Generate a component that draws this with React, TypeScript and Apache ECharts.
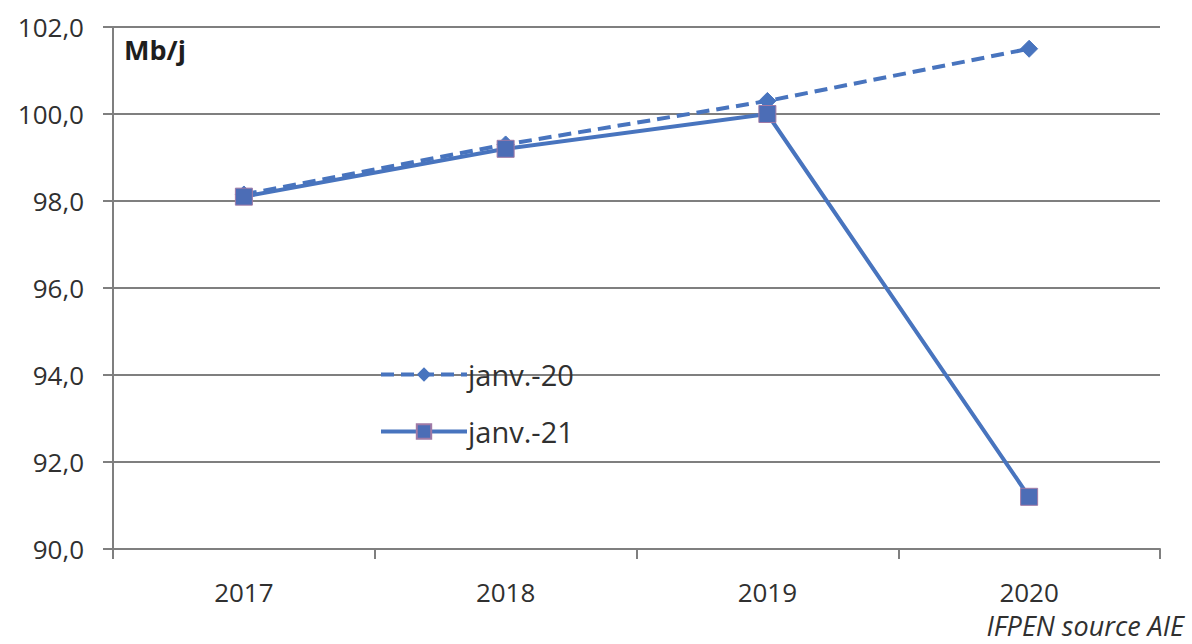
import React, { useEffect, useRef } from "react";
import * as echarts from "echarts";

const categories = ["2017", "2018", "2019", "2020"];
const janv20 = [98.15, 99.3, 100.3, 101.5];
const janv21 = [98.1, 99.2, 100.0, 91.2];
const seriesNames = ["janv.-20", "janv.-21"];
const unitLabel = "Mb/j";
const sourceLabel = "IFPEN source AIE";

const LINE = "#4874be";
const FONT = "'Open Sans', 'Liberation Sans', sans-serif";
const GRID = "#7f7f7f";

export default function App() {
  const ref = useRef<HTMLDivElement>(null);
  useEffect(() => {
    if (!ref.current) return;
    const chart = echarts.init(ref.current, undefined, { renderer: "svg" });
    chart.setOption({
      animation: false,
      backgroundColor: "#ffffff",
      textStyle: { fontFamily: FONT },
      grid: { left: 113, right: 32, top: 27, bottom: 95 },
      xAxis: {
        type: "category",
        data: categories,
        boundaryGap: true,
        axisLine: { lineStyle: { color: GRID, width: 2 } },
        axisTick: { show: true, length: 10, lineStyle: { color: GRID, width: 2 } },
        axisLabel: { color: "#303030", fontSize: 26, lineHeight: 26, margin: 30, fontFamily: FONT },
      },
      yAxis: {
        type: "value",
        min: 90,
        max: 102,
        interval: 2,
        axisLine: { show: true, lineStyle: { color: GRID, width: 2 } },
        axisTick: { show: true, length: 10, lineStyle: { color: GRID, width: 2 } },
        splitLine: { lineStyle: { color: GRID, width: 2 } },
        axisLabel: {
          color: "#303030",
          fontSize: 26,
          margin: 29,
          fontFamily: FONT,
          formatter: (v: number) => v.toFixed(1).replace(".", ","),
        },
      },
      legend: {
        orient: "vertical",
        left: 374,
        top: 355,
        itemWidth: 86,
        itemHeight: 18,
        itemGap: 28,
        lineStyle: { width: 4 },
        textStyle: { color: "#303030", fontSize: 29, fontFamily: FONT, padding: [0, 0, 0, -4] },
        data: seriesNames,
      },
      series: [
        {
          name: seriesNames[0],
          type: "line",
          data: janv20,
          symbol: "diamond",
          symbolSize: 17,
          lineStyle: { color: LINE, width: 4, type: [13, 7] },
          itemStyle: { color: LINE, borderColor: LINE },
        },
        {
          name: seriesNames[1],
          type: "line",
          data: janv21,
          symbol: "rect",
          symbolSize: 17,
          lineStyle: { color: LINE, width: 4, type: "solid" },
          itemStyle: { color: "#4c6db6", borderColor: "#a07aa6", borderWidth: 1 },
        },
      ],
      graphic: [
        {
          type: "text",
          left: 124,
          top: 36,
          style: { text: unitLabel, fontSize: 27, fontWeight: "bold", fill: "#1e1e1e", fontFamily: FONT },
        },
        {
          type: "text",
          right: 8,
          top: 612,
          style: { text: sourceLabel, fontSize: 27, lineHeight: 27, fontStyle: "italic", fill: "#303030", fontFamily: FONT },
        },
      ],
    });
    return () => chart.dispose();
  }, []);
  return <div ref={ref} style={{ width: 1192, height: 644, position: "absolute", left: 0, top: 0 }} />;
}
